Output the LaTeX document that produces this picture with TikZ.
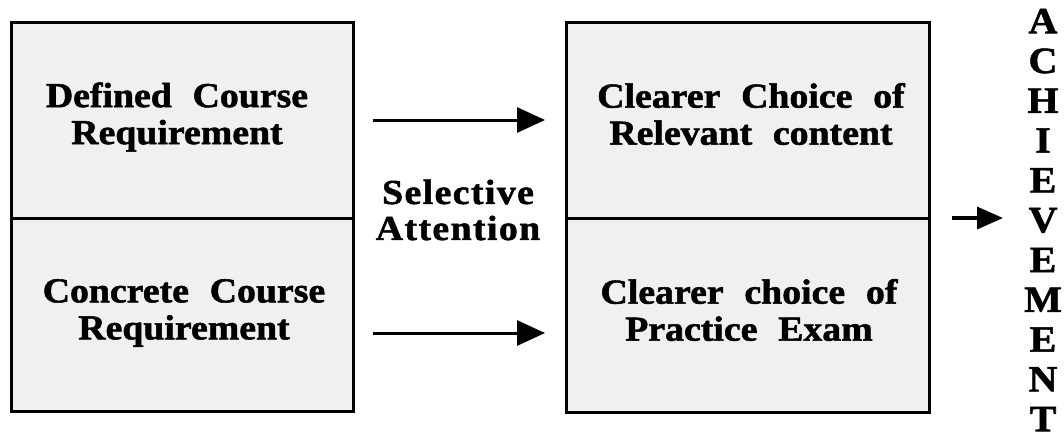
\documentclass[tikz,border=0pt]{standalone}
\usepackage{fontspec}
\setmainfont{Liberation Serif}
\newfontfamily\cellfont[FakeStretch=1.08,FakeBold=1.5,WordSpace=2.2]{Liberation Serif}
\newfontfamily\midfont[FakeStretch=1.08,FakeBold=1.5,LetterSpace=4]{Liberation Serif}
\usetikzlibrary{arrows.meta}
\begin{document}
\begin{tikzpicture}[x=1pt,y=-1pt,
  cell/.style={draw, line width=3pt, fill=black!6, outer sep=0pt, inner sep=0pt},
  lbl/.style={font=\cellfont\bfseries\fontsize{35pt}{37pt}\selectfont, align=center, inner sep=0pt},
  midlbl/.style={font=\midfont\bfseries\fontsize{35pt}{36pt}\selectfont, align=center, inner sep=0pt},
  vert/.style={font=\cellfont\bfseries\fontsize{37pt}{39.8pt}\selectfont, align=center, inner sep=0pt},
  flow/.style={line width=3pt, -{Triangle[length=28pt,width=25pt]}}]
\useasboundingbox (0,0) rectangle (1064,440);

% left column of cells
\node[cell, minimum width=342pt, minimum height=196pt] (lt) at (182,120) {};
\node[cell, minimum width=342pt, minimum height=193pt] (lb) at (182,314.5) {};
% right column of cells
\node[cell, minimum width=363pt, minimum height=196pt] (rt) at (747.5,120) {};
\node[cell, minimum width=363pt, minimum height=194pt] (rb) at (747.5,315) {};

% cell texts
\node[lbl] (ltt) at (177,117) {Defined Course\\Requirement};
\node[lbl] (lbt) at (184,313) {Concrete Course\\Requirement};
\node[lbl] (rtt) at (751,114) {Clearer Choice of\\Relevant content};
\node[lbl] (rbt) at (749,310) {Clearer choice of\\Practice Exam};

% middle label
\node[midlbl] (sel) at (458,210) {Selective\\Attention};

% vertical outcome word
\node[vert] (ach) at (1043,220) {A\\C\\H\\I\\E\\V\\E\\M\\E\\N\\T};
\coordinate (achin) at (1003,218);

% connectors
\draw[flow, shorten <=20pt, shorten >=21pt] (lt.east) -- (rt.west);
\draw[flow, shorten <=20pt, shorten >=21pt] ([yshift=-18.5pt]lb.east) -- ([yshift=-18pt]rb.west);
\draw[line width=3.5pt, -{Triangle[length=26pt,width=22pt]}, shorten <=23pt] (rt.south east) -- (achin);
\end{tikzpicture}
\end{document}
